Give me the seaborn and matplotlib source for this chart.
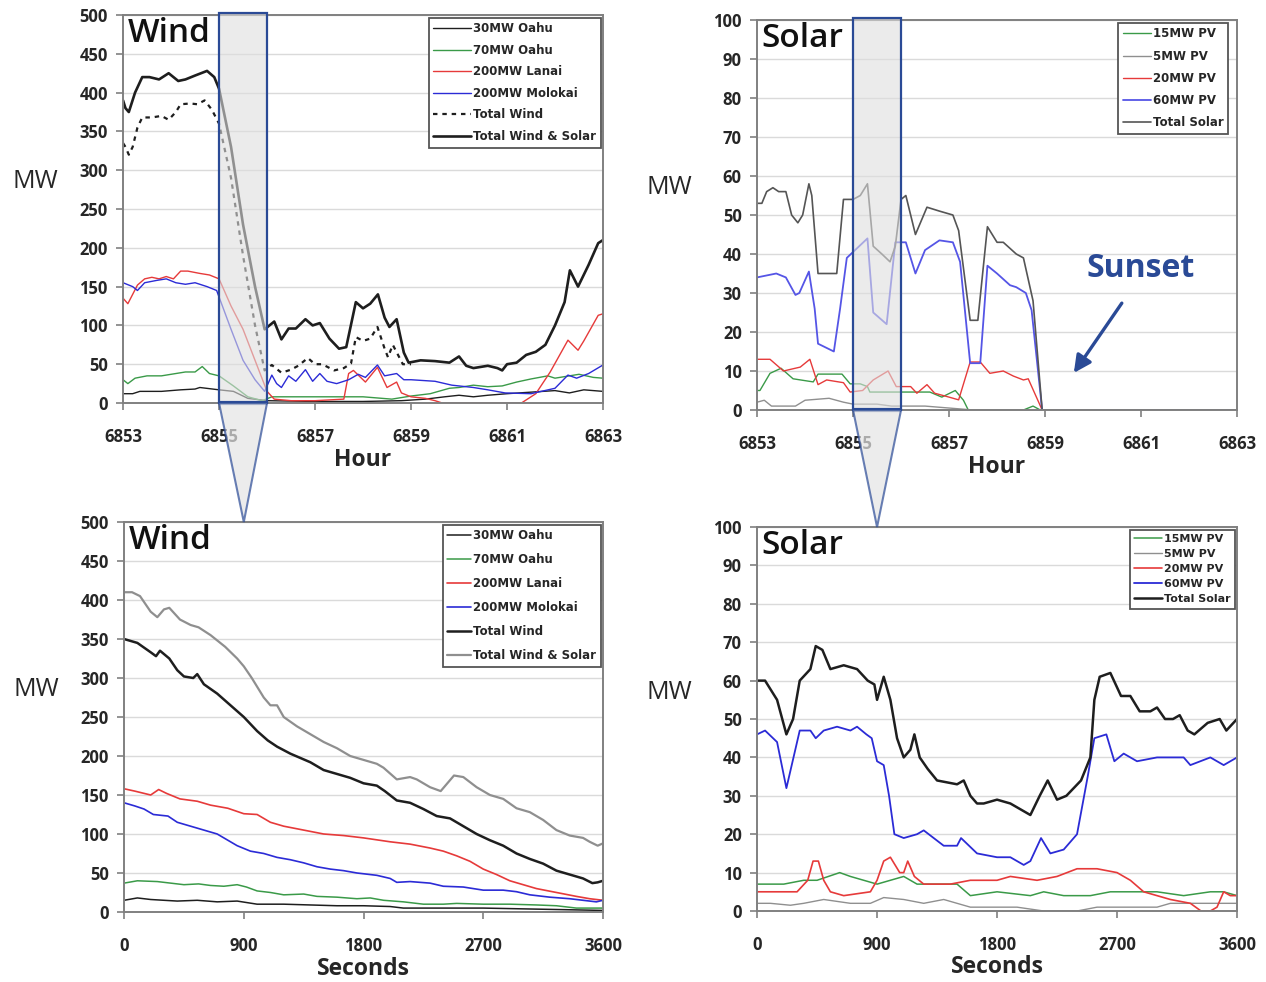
import matplotlib
matplotlib.use("Agg")
import matplotlib.pyplot as plt
from matplotlib.patches import Rectangle, Polygon
import seaborn as sns

# ---------------------------------------------------------------------------
# Hourly wind (MW), hours 6853-6863
# ---------------------------------------------------------------------------
oahu30_h = [6853.0, 6853.2, 6853.35, 6853.8, 6854.2, 6854.5, 6854.6, 6855.0, 6855.3, 6855.6,
            6856.0, 6857.0, 6858.0, 6858.8, 6859.3, 6859.7, 6860.0, 6860.3, 6860.6, 6861.0,
            6861.5, 6862.0, 6862.3, 6862.6, 6863.0]
oahu30_mw = [12, 12, 15, 15, 17, 18, 20, 17, 15, 6,
             3, 2, 2, 3, 5, 8, 10, 8, 10, 12,
             14, 16, 13, 17, 15]

oahu70_h = [6853.0, 6853.1, 6853.25, 6853.5, 6853.8, 6854.0, 6854.3, 6854.5, 6854.65, 6854.8,
            6855.0, 6855.3, 6855.6, 6855.9, 6856.1, 6857.0, 6858.0, 6858.6, 6859.0, 6859.4,
            6859.8, 6860.0, 6860.3, 6860.6, 6860.9, 6861.2, 6861.5, 6861.85, 6862.0, 6862.3,
            6862.5, 6862.8, 6863.0]
oahu70_mw = [30, 25, 32, 35, 35, 37, 40, 40, 47, 38,
             35, 22, 8, 3, 8, 8, 8, 5, 9, 12,
             19, 20, 23, 21, 22, 27, 31, 35, 32, 35,
             37, 33, 32]

lanai_h = [6853.0, 6853.1, 6853.2, 6853.3, 6853.45, 6853.6, 6853.75, 6853.9, 6854.05, 6854.2,
           6854.35, 6854.6, 6854.8, 6855.0, 6855.25, 6855.5, 6855.75, 6856.0, 6856.15, 6856.5,
           6857.0, 6857.6, 6857.7, 6857.8, 6858.05, 6858.3, 6858.5, 6858.7, 6858.8, 6859.0,
           6859.3, 6859.5, 6859.65, 6861.3, 6861.6, 6861.9, 6862.27, 6862.48, 6862.6, 6862.9,
           6863.0]
lanai_mw = [135, 128, 140, 152, 160, 162, 160, 163, 160, 170,
            170, 167, 165, 160, 125, 95, 55, 15, 5, 3,
            3, 5, 38, 42, 27, 46, 20, 27, 13, 8,
            6, 3, 0, 0, 12, 40, 81, 68, 80, 113,
            115]

molokai_h = [6853.0, 6853.2, 6853.3, 6853.45, 6853.7, 6853.9, 6854.1, 6854.3, 6854.5, 6854.75,
             6854.95, 6855.25, 6855.5, 6855.75, 6855.95, 6856.1, 6856.2, 6856.3, 6856.45, 6856.6,
             6856.8, 6856.95, 6857.1, 6857.25, 6857.45, 6857.7, 6857.9, 6858.05, 6858.3, 6858.45,
             6858.7, 6858.85, 6859.0, 6859.5, 6859.85, 6860.3, 6860.6, 6860.96, 6861.5, 6862.0,
             6862.27, 6862.45, 6862.7, 6863.0]
molokai_mw = [155, 150, 145, 155, 158, 160, 155, 153, 155, 150,
              145, 95, 55, 30, 15, 36, 25, 20, 35, 28,
              43, 28, 38, 28, 25, 30, 37, 33, 49, 35,
              38, 30, 30, 28, 23, 20, 17, 13, 12, 19,
              36, 32, 38, 49]

totwind_h = [6853.0, 6853.05, 6853.12, 6853.2, 6853.3, 6853.4, 6853.6, 6853.8, 6853.95, 6854.1,
             6854.2, 6854.4, 6854.55, 6854.7, 6854.85, 6855.0, 6855.25, 6855.5, 6855.75, 6855.95,
             6856.1, 6856.3, 6856.5, 6856.65, 6856.85, 6857.0, 6857.15, 6857.4, 6857.6, 6857.75,
             6857.85, 6858.0, 6858.15, 6858.3, 6858.45, 6858.52, 6858.62, 6858.83, 6859.0]
totwind_mw = [335, 330, 320, 330, 355, 368, 368, 370, 365, 375,
              385, 386, 385, 390, 378, 360, 290, 190, 100, 42,
              49, 39, 43, 48, 58, 50, 50, 42, 45, 51,
              85, 80, 83, 98, 70, 59, 75, 50, 50]

totws_h = [6853.0, 6853.05, 6853.12, 6853.25, 6853.4, 6853.55, 6853.75, 6853.95, 6854.15, 6854.3,
           6854.5, 6854.75, 6854.9, 6855.0, 6855.25, 6855.5, 6855.75, 6855.95, 6856.05, 6856.15,
           6856.3, 6856.45, 6856.6, 6856.8, 6856.95, 6857.1, 6857.3, 6857.5, 6857.65, 6857.85,
           6858.0, 6858.15, 6858.31, 6858.45, 6858.55, 6858.7, 6858.85, 6858.95, 6859.2, 6859.5,
           6859.8, 6860.0, 6860.15, 6860.3, 6860.6, 6860.8, 6860.9, 6861.0, 6861.2, 6861.4,
           6861.6, 6861.8, 6862.0, 6862.2, 6862.31, 6862.48, 6862.7, 6862.9, 6863.0]
totws_mw = [390, 380, 375, 400, 420, 420, 417, 425, 415, 417,
            422, 428, 420, 405, 330, 230, 150, 95, 100, 105,
            82, 96, 96, 108, 100, 103, 83, 70, 72, 130,
            122, 128, 140, 110, 98, 108, 65, 52, 55, 54,
            52, 60, 48, 45, 48, 45, 42, 50, 52, 62,
            66, 75, 100, 130, 171, 150, 178, 206, 210]

# ---------------------------------------------------------------------------
# Hourly solar (MW), hours 6853-6863
# ---------------------------------------------------------------------------
pv15_h = [6853.0, 6853.06, 6853.27, 6853.5, 6853.75, 6854.17, 6854.27, 6854.77, 6854.94, 6855.15,
          6855.3, 6855.35, 6855.55, 6856.6, 6856.85, 6857.13, 6857.3, 6857.4, 6858.55, 6858.75,
          6858.9, 6863.0]
pv15_mw = [5, 5, 9.4, 10.7, 8, 7.2, 9.2, 9.2, 6.7, 6.7,
           6, 4.6, 4.6, 4.6, 3.3, 5, 2.5, 0, 0, 1,
           0, 0]

pv5_h = [6853.0, 6853.15, 6853.3, 6853.8, 6854.0, 6854.5, 6854.8, 6855.0, 6855.5, 6855.8,
         6856.5, 6857.0, 6857.5, 6863.0]
pv5_mw = [2, 2.5, 1, 1, 2.5, 3, 2, 1.5, 1.5, 1,
          1, 0.5, 0, 0]

pv20_h = [6853.0, 6853.27, 6853.55, 6853.9, 6854.1, 6854.27, 6854.45, 6854.8, 6854.94, 6855.2,
          6855.42, 6855.73, 6855.9, 6856.2, 6856.33, 6856.54, 6856.7, 6857.0, 6857.2, 6857.44,
          6857.65, 6857.85, 6858.13, 6858.34, 6858.55, 6858.65, 6858.94, 6863.0]
pv20_mw = [13, 13, 10, 11, 13, 6.5, 7.7, 7, 4.6, 5,
           7.7, 10, 6, 6, 4.3, 6.5, 4.3, 3.3, 2.6, 12.3,
           12.3, 9.4, 10, 8.7, 7.7, 8, 0, 0]

pv60_h = [6853.0, 6853.4, 6853.6, 6853.8, 6853.88, 6854.08, 6854.2, 6854.27, 6854.6, 6854.73,
          6854.87, 6855.3, 6855.42, 6855.7, 6855.88, 6856.1, 6856.3, 6856.5, 6856.8, 6857.08,
          6857.23, 6857.44, 6857.65, 6857.8, 6858.0, 6858.27, 6858.4, 6858.6, 6858.72, 6858.94,
          6863.0]
pv60_mw = [34, 35, 34, 29.5, 30, 35.5, 26, 17, 15, 26,
           39, 44, 25, 22, 43, 43, 35, 41, 43.5, 43,
           38, 12, 12, 37, 35, 32, 31.5, 30, 25.6, 0,
           0]

totsol_h = [6853.0, 6853.1, 6853.2, 6853.33, 6853.45, 6853.6, 6853.72, 6853.85, 6853.95, 6854.08,
            6854.14, 6854.27, 6854.66, 6854.8, 6855.0, 6855.15, 6855.3, 6855.42, 6855.6, 6855.77,
            6855.88, 6856.0, 6856.1, 6856.3, 6856.54, 6856.8, 6857.08, 6857.2, 6857.44, 6857.6,
            6857.8, 6858.0, 6858.13, 6858.4, 6858.55, 6858.75, 6858.94, 6863.0]
totsol_mw = [53, 53, 56, 57, 56, 56, 50, 48, 50, 58,
             55, 35, 35, 54, 54, 55, 58, 42, 40, 38,
             42, 54, 55, 45, 52, 51, 50, 46, 23, 23,
             47, 43, 43, 40, 39, 28, 0, 0]

# ---------------------------------------------------------------------------
# One hour zoom, wind (MW) by second
# ---------------------------------------------------------------------------
oahu30_s = [0, 100, 200, 400, 550, 700, 850, 1000, 1200, 1400,
            1600, 1800, 2000, 2100, 2400, 2700, 3000, 3300, 3600]
oahu30_zmw = [15, 18, 16, 14, 15, 13, 14, 10, 10, 9,
              8, 8, 7, 5, 5, 5, 4, 3, 2]

oahu70_s = [0, 100, 250, 350, 450, 560, 650, 750, 850, 920,
            1000, 1100, 1200, 1350, 1450, 1600, 1750, 1850, 1950, 2100,
            2250, 2400, 2500, 2700, 2900, 3100, 3250, 3400, 3600]
oahu70_zmw = [37, 40, 39, 37, 35, 36, 34, 33, 35, 32,
              27, 25, 22, 23, 20, 19, 17, 18, 15, 13,
              10, 10, 11, 10, 10, 9, 8, 5, 5]

lanai_s = [0, 80, 200, 260, 320, 420, 550, 650, 780, 900,
           1000, 1050, 1100, 1200, 1350, 1500, 1650, 1800, 2000, 2150,
           2300, 2400, 2500, 2600, 2700, 2800, 2900, 3000, 3100, 3250,
           3400, 3500, 3600]
lanai_zmw = [158, 155, 150, 157, 152, 145, 142, 137, 133, 126,
             125, 120, 115, 110, 105, 100, 98, 95, 90, 87,
             82, 78, 72, 65, 55, 48, 40, 35, 30, 25,
             20, 17, 15]

molokai_s = [0, 80, 150, 220, 330, 400, 500, 600, 700, 780,
             850, 950, 1050, 1150, 1250, 1350, 1450, 1550, 1650, 1750,
             1900, 2000, 2050, 2150, 2300, 2400, 2550, 2700, 2850, 2950,
             3050, 3200, 3350, 3450, 3550, 3600]
molokai_zmw = [140, 136, 132, 125, 123, 115, 110, 105, 100, 92,
               85, 78, 75, 70, 67, 63, 58, 55, 53, 50,
               47, 43, 38, 39, 37, 33, 32, 28, 28, 26,
               22, 19, 17, 15, 13, 15]

totwind_s = [0, 100, 200, 240, 270, 340, 400, 450, 520, 550,
             600, 700, 800, 900, 1000, 1080, 1150, 1250, 1400, 1500,
             1600, 1700, 1800, 1900, 1960, 2050, 2150, 2250, 2350, 2450,
             2550, 2650, 2750, 2850, 2950, 3050, 3150, 3250, 3350, 3450,
             3520, 3560, 3600]
totwind_zmw = [350, 345, 333, 328, 335, 325, 310, 302, 300, 305,
               292, 280, 265, 250, 232, 220, 212, 203, 192, 182,
               177, 172, 165, 162, 155, 143, 140, 132, 123, 120,
               110, 100, 92, 85, 75, 68, 62, 53, 48, 43,
               37, 38, 40]

totws_s = [0, 60, 120, 200, 250, 300, 340, 420, 500, 560,
           650, 760, 850, 900, 960, 1050, 1100, 1150, 1200, 1300,
           1400, 1500, 1600, 1700, 1800, 1900, 1950, 2050, 2150, 2200,
           2300, 2380, 2430, 2480, 2550, 2650, 2750, 2850, 2950, 3050,
           3150, 3250, 3350, 3450, 3500, 3560, 3600]
totws_zmw = [410, 410, 405, 385, 378, 388, 390, 375, 368, 365,
             355, 340, 325, 315, 300, 275, 265, 265, 250, 238,
             228, 218, 210, 200, 195, 190, 185, 170, 173, 170,
             160, 155, 165, 175, 173, 160, 150, 145, 133, 128,
             118, 105, 98, 95, 90, 85, 88]

# ---------------------------------------------------------------------------
# One hour zoom, solar (MW) by second
# ---------------------------------------------------------------------------
pv15_s = [0, 200, 350, 450, 620, 700, 800, 900, 1000, 1100,
          1200, 1350, 1500, 1600, 1800, 2050, 2150, 2300, 2500, 2650,
          2800, 3000, 3200, 3400, 3500, 3600]
pv15_zmw = [7, 7, 8, 8, 10, 9, 8, 7, 8, 9,
            7, 7, 7, 4, 5, 4, 5, 4, 4, 5,
            5, 5, 4, 5, 5, 4]

pv5_s = [0, 100, 250, 350, 500, 700, 850, 950, 1100, 1250,
         1400, 1600, 1800, 1950, 2150, 2400, 2550, 2800, 3000, 3100,
         3600]
pv5_zmw = [2, 2, 1.5, 2, 3, 2, 2, 3.5, 3, 2,
           3, 1, 1, 1, 0, 0, 1, 1, 1, 2,
           2]

pv20_s = [0, 200, 300, 380, 420, 460, 500, 550, 650, 850,
          900, 950, 1000, 1070, 1100, 1130, 1180, 1250, 1450, 1600,
          1800, 1900, 2100, 2250, 2400, 2550, 2700, 2800, 2900, 3100,
          3250, 3330, 3400, 3450, 3500, 3550, 3600]
pv20_zmw = [5, 5, 5, 8, 13, 13, 8, 5, 4, 5,
            8, 13, 14, 10, 10, 13, 9, 7, 7, 8,
            8, 9, 8, 9, 11, 11, 10, 8, 5, 3,
            2, 0, 0, 1, 5, 4, 4]

pv60_s = [0, 60, 150, 220, 260, 320, 400, 440, 500, 600,
          700, 750, 820, 860, 900, 950, 990, 1030, 1100, 1200,
          1250, 1400, 1500, 1530, 1650, 1800, 1900, 2000, 2050, 2130,
          2200, 2300, 2400, 2480, 2530, 2620, 2680, 2750, 2850, 3000,
          3200, 3250, 3400, 3500, 3600]
pv60_zmw = [46, 47, 44, 32, 38, 47, 47, 45, 47, 48,
            47, 48, 46, 45, 39, 38, 30, 20, 19, 20,
            21, 17, 17, 19, 15, 14, 14, 12, 13, 19,
            15, 16, 20, 35, 45, 46, 39, 41, 39, 40,
            40, 38, 40, 38, 40]

totsol_s = [0, 60, 150, 220, 270, 320, 400, 440, 490, 550,
            650, 750, 830, 880, 900, 950, 1000, 1050, 1100, 1150,
            1180, 1220, 1280, 1350, 1500, 1550, 1600, 1650, 1700, 1800,
            1900, 2000, 2050, 2120, 2180, 2250, 2320, 2430, 2500, 2530,
            2570, 2650, 2730, 2800, 2870, 2950, 3000, 3060, 3120, 3170,
            3230, 3280, 3380, 3470, 3520, 3600]
totsol_zmw = [60, 60, 55, 46, 50, 60, 63, 69, 68, 63,
              64, 63, 60, 59, 55, 61, 55, 45, 40, 42,
              46, 40, 37, 34, 33, 34, 30, 28, 28, 29,
              28, 26, 25, 30, 34, 29, 30, 34, 40, 55,
              61, 62, 56, 56, 52, 52, 53, 50, 50, 51,
              47, 46, 49, 50, 47, 50]

HOUR_TICKS = [6853, 6855, 6857, 6859, 6861, 6863]
SEC_TICKS = [0, 900, 1800, 2700, 3600]
ZOOM_HOUR = (6855, 6856)

# ---------------------------------------------------------------------------
# Styling
# ---------------------------------------------------------------------------
sns.set_style("white")
plt.rcParams["font.family"] = ["Open Sans", "DejaVu Sans"]

BLACK = "#1e1e1e"
GREEN = "#3a9a48"
RED = "#e63a3a"
BLUE = "#2b2bd6"
VIOLET = "#5555e6"
GRAY = "#8f8f8f"
DKGRAY = "#555555"
NAVY = "#2a4a96"
FRAME = "#808080"

fig = plt.figure(figsize=(12.66, 9.82), dpi=100)
ax_wh = fig.add_axes([0.0972, 0.5896, 0.3791, 0.3951])
ax_sh = fig.add_axes([0.5980, 0.5825, 0.3791, 0.3971])
ax_ws = fig.add_axes([0.0980, 0.0713, 0.3783, 0.3971])
ax_ss = fig.add_axes([0.5980, 0.0723, 0.3791, 0.3910])


def line(ax, x, y, color, label, lw=1.0, **kw):
    sns.lineplot(x=x, y=y, ax=ax, color=color, lw=lw, label=label,
                 estimator=None, sort=False, **kw)


def style_axes(ax, xlim, xticks, ymax, ystep, xlabel, title):
    ax.set_xlim(*xlim)
    ax.set_ylim(0, ymax)
    ax.set_xticks(xticks)
    ax.set_yticks(range(0, ymax + 1, ystep))
    ax.grid(axis="y", color="#dadada", lw=1.0)
    ax.set_axisbelow(True)
    for sp in ax.spines.values():
        sp.set_visible(True)
        sp.set_color(FRAME)
        sp.set_linewidth(1.4)
    ax.tick_params(axis="x", direction="out", length=5, width=1.2, color=FRAME,
                   pad=13, labelsize=12)
    ax.tick_params(axis="y", direction="out", length=5, width=1.2, color=FRAME,
                   pad=6, labelsize=12)
    ax.tick_params(bottom=True, left=True)
    for t in ax.get_xticklabels() + ax.get_yticklabels():
        t.set_fontweight("bold")
    ax.set_xlabel(xlabel, fontsize=16.5, fontweight="bold", va="center")
    ax.xaxis.set_label_coords(0.5, -0.147)
    ax.set_ylabel("MW", fontsize=18, rotation=0, va="center", ha="center")
    ax.yaxis.set_label_coords(-0.183, 0.57)
    ax.text(0.01, 0.995, title, transform=ax.transAxes, ha="left", va="top",
            fontsize=24, fontweight="semibold", color="#111111")


def legend(ax, fontsize, spacing, handlelen, right=0.995):
    leg = ax.legend(loc="upper right", bbox_to_anchor=(right, 0.993),
                    borderaxespad=0, labelspacing=spacing,
                    handlelength=handlelen, handletextpad=0.15, borderpad=0.4,
                    frameon=True, fancybox=False, framealpha=1,
                    edgecolor="#555555",
                    prop={"family": "DejaVu Sans", "weight": "bold", "size": fontsize})
    leg.get_frame().set_linewidth(1.3)


# ---- hourly wind ----
line(ax_wh, oahu30_h, oahu30_mw, BLACK, "30MW Oahu")
line(ax_wh, oahu70_h, oahu70_mw, GREEN, "70MW Oahu")
line(ax_wh, lanai_h, lanai_mw, RED, "200MW Lanai")
line(ax_wh, molokai_h, molokai_mw, BLUE, "200MW Molokai")
line(ax_wh, totwind_h, totwind_mw, BLACK, "Total Wind", lw=1.6, ls=(0, (2, 2.2)))
line(ax_wh, totws_h, totws_mw, BLACK, "Total Wind & Solar", lw=1.9)
style_axes(ax_wh, (6853, 6863), HOUR_TICKS, 500, 50, "Hour", "Wind")
legend(ax_wh, 8.5, 0.72, 3.2)

# ---- hourly solar ----
line(ax_sh, pv15_h, pv15_mw, GREEN, "15MW PV")
line(ax_sh, pv5_h, pv5_mw, GRAY, "5MW PV")
line(ax_sh, pv20_h, pv20_mw, RED, "20MW PV")
line(ax_sh, pv60_h, pv60_mw, VIOLET, "60MW PV", lw=1.3)
line(ax_sh, totsol_h, totsol_mw, DKGRAY, "Total Solar", lw=1.2)
style_axes(ax_sh, (6853, 6863), HOUR_TICKS, 100, 10, "Hour", "Solar")
legend(ax_sh, 8.5, 0.78, 2.4, right=0.982)
ax_sh.text(6861.0, 36.4, "Sunset", ha="center", va="center", fontsize=23,
           fontweight="bold", color=NAVY)
ax_sh.annotate("", xy=(6859.6, 9.5), xytext=(6860.6, 27.4),
               arrowprops=dict(arrowstyle="-|>", color=NAVY, lw=2.4,
                               mutation_scale=26, shrinkA=0, shrinkB=0))

# ---- one hour wind ----
line(ax_ws, oahu30_s, oahu30_zmw, BLACK, "30MW Oahu", lw=1.1)
line(ax_ws, oahu70_s, oahu70_zmw, GREEN, "70MW Oahu", lw=1.1)
line(ax_ws, lanai_s, lanai_zmw, RED, "200MW Lanai", lw=1.2)
line(ax_ws, molokai_s, molokai_zmw, BLUE, "200MW Molokai", lw=1.2)
line(ax_ws, totwind_s, totwind_zmw, BLACK, "Total Wind", lw=1.8)
line(ax_ws, totws_s, totws_zmw, GRAY, "Total Wind & Solar", lw=1.6)
style_axes(ax_ws, (0, 3600), SEC_TICKS, 500, 50, "Seconds", "Wind")
legend(ax_ws, 8.5, 0.93, 2.0)

# ---- one hour solar ----
line(ax_ss, pv15_s, pv15_zmw, GREEN, "15MW PV", lw=1.1)
line(ax_ss, pv5_s, pv5_zmw, GRAY, "5MW PV", lw=1.0)
line(ax_ss, pv20_s, pv20_zmw, RED, "20MW PV", lw=1.2)
line(ax_ss, pv60_s, pv60_zmw, BLUE, "60MW PV", lw=1.3)
line(ax_ss, totsol_s, totsol_zmw, BLACK, "Total Solar", lw=1.8)
style_axes(ax_ss, (0, 3600), SEC_TICKS, 100, 10, "Seconds", "Solar")
legend(ax_ss, 8.0, 0.45, 2.5)

# ---- zoom window on the hourly charts + funnel down to the one hour charts ----
for top, bottom, ymax in [(ax_wh, ax_ws, 500), (ax_sh, ax_ss, 100)]:
    x0, x1 = ZOOM_HOUR
    top.add_patch(Rectangle((x0, 0), x1 - x0, ymax * 1.006, facecolor="#dedede",
                            alpha=0.6, edgecolor="none", zorder=5, clip_on=False,
                            hatch="....", lw=0))
    top.add_patch(Rectangle((x0, 0), x1 - x0, ymax * 1.006, facecolor="none",
                            edgecolor=NAVY, lw=1.6, zorder=6, clip_on=False))
    top.plot([x0, x1], [0, 0], color=NAVY, lw=3, zorder=7, clip_on=False,
             solid_capstyle="butt")
    inv = fig.transFigure.inverted()
    p_left = inv.transform(top.transData.transform((x0, 0)))
    p_right = inv.transform(top.transData.transform((x1, 0)))
    p_tip = inv.transform(bottom.transData.transform((900, bottom.get_ylim()[1])))
    funnel = Polygon([p_left, p_right, p_tip], closed=True, transform=fig.transFigure,
                     facecolor="#e4e4e4", alpha=0.7, edgecolor=NAVY, lw=1.5, zorder=10)
    fig.add_artist(funnel)

fig.savefig("out.png", dpi=100)
